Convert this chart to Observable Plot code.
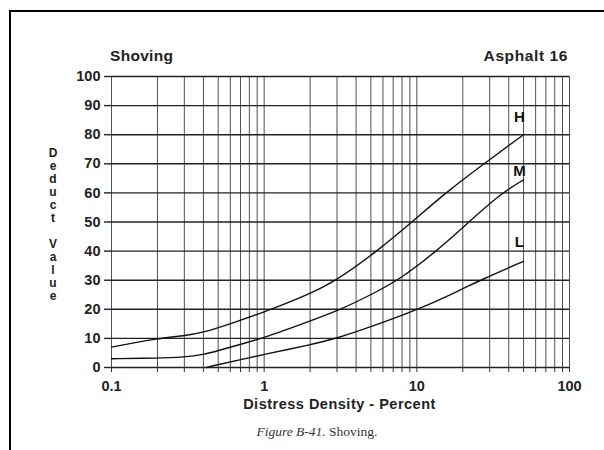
<!DOCTYPE html>
<html>
<head>
<meta charset="utf-8">
<script src="https://cdn.jsdelivr.net/npm/d3@7"></script>
<script src="https://cdn.jsdelivr.net/npm/@observablehq/plot@0.6"></script>
<style>
  html, body { margin: 0; padding: 0; background: #fff; }
  #wrap { position: relative; width: 604px; height: 450px; overflow: hidden; background: #fff; }
  #frame { position: absolute; left: 9px; top: 10px; width: 620px; height: 460px; border-left: 2px solid #000; border-top: 2px solid #000; }
  #chart { position: absolute; left: 0; top: 0; }
  .t { position: absolute; font-family: "Liberation Sans", Arial, sans-serif; font-weight: bold; color: #222; white-space: nowrap; }
  #title { left: 110px; top: 47px; font-size: 15.5px; letter-spacing: 0.3px; }
  #sub { right: 36px; top: 47px; font-size: 15.5px; letter-spacing: 0.6px; }
  #ylab { left: 47px; top: 146px; font-size: 12px; writing-mode: vertical-lr; text-orientation: upright; letter-spacing: -1px; line-height: 12px; }
  #xlab { left: 111px; width: 457px; text-align: center; top: 396px; font-size: 14.5px; letter-spacing: 0.5px; }
  #cap { left: 111px; width: 412px; text-align: center; top: 424px; font-family: "Liberation Serif", "DejaVu Serif", serif; font-weight: normal; font-size: 13.5px; color: #333; }
</style>
</head>
<body>
<div id="wrap">
  <div id="frame"></div>
  <div id="chart"></div>
  <div class="t" id="title">Shoving</div>
  <div class="t" id="sub">Asphalt 16</div>
  <div class="t" id="ylab">Deduct&nbsp;Value</div>
  <div class="t" id="xlab">Distress Density - Percent</div>
  <div class="t" id="cap"><i>Figure B-41.</i> Shoving.</div>
</div>
<script>
// Tick values and labels
const xGrid = [0.1,0.2,0.3,0.4,0.5,0.6,0.7,0.8,0.9,1,2,3,4,5,6,7,8,9,10,20,30,40,50,60,70,80,90,100];
const xTickValues = [0.1, 1, 10, 100];
const xTickLabels = ["0.1", "1", "10", "100"];
const yTicks = [0,10,20,30,40,50,60,70,80,90,100];

// Series: High severity
const hX = [0.1, 0.2, 0.3, 0.4, 0.6, 1, 2, 3, 5.5, 9.3, 15.4, 27.5, 50];
const hY = [7, 10, 10.9, 12, 15, 19, 25.3, 30, 40, 50, 60, 70, 80];
// Medium severity
const mX = [0.1, 0.2, 0.3, 0.4, 0.5, 0.7, 1, 2, 3.2, 5, 7.6, 13.5, 21.9, 36, 50];
const mY = [3, 3.2, 3.6, 4.4, 5.8, 8, 10.2, 16, 20, 25, 30, 40, 50, 60, 64.5];
// Low severity
const lX = [0.42, 0.5, 0.7, 1, 2, 3, 5, 10, 20, 26, 50];
const lY = [0, 1, 2.7, 4.5, 7.8, 10, 14, 19.7, 27, 30, 36.5];

const seriesNames = ["H", "M", "L"];
const labelX = [47, 47, 47];
const labelY = [86, 67.5, 43];

const toRows = (xs, ys, s) => xs.map((x, i) => ({x, y: ys[i], s}));
const rows = [...toRows(hX, hY, "H"), ...toRows(mX, mY, "M"), ...toRows(lX, lY, "L")];
const labels = seriesNames.map((s, i) => ({s, x: labelX[i], y: labelY[i]}));

const chart = Plot.plot({
  width: 604,
  height: 450,
  marginLeft: 111,
  marginRight: 35,
  marginTop: 76,
  marginBottom: 83,
  style: {fontFamily: "Liberation Sans, Arial, sans-serif", fontWeight: "bold", fontSize: "14.5px", color: "#222", background: "transparent"},
  x: {type: "log", domain: [0.1, 100]},
  y: {domain: [0, 100]},
  marks: [
    Plot.ruleX(xGrid, {stroke: "#333", strokeWidth: 1, strokeOpacity: 0.85}),
    Plot.ruleY(yTicks, {stroke: "#222", strokeWidth: 1.4}),
    Plot.axisX({ticks: xGrid, tickSize: 5, tickPadding: 8, stroke: "#333",
      tickFormat: d => { const i = xTickValues.indexOf(d); return i >= 0 ? xTickLabels[i] : ""; },
      label: null}),
    Plot.axisY({ticks: yTicks, tickSize: 7, tickPadding: 4, stroke: "#222", strokeWidth: 1.4, label: null}),
    Plot.line(rows, {x: "x", y: "y", z: "s", stroke: "#111", strokeWidth: 1.4, curve: "basis"}),
    Plot.text(labels, {x: "x", y: "y", text: "s", fill: "#111", fontSize: 15, fontWeight: "bold"})
  ]
});
document.getElementById("chart").appendChild(chart);
</script>
</body>
</html>
